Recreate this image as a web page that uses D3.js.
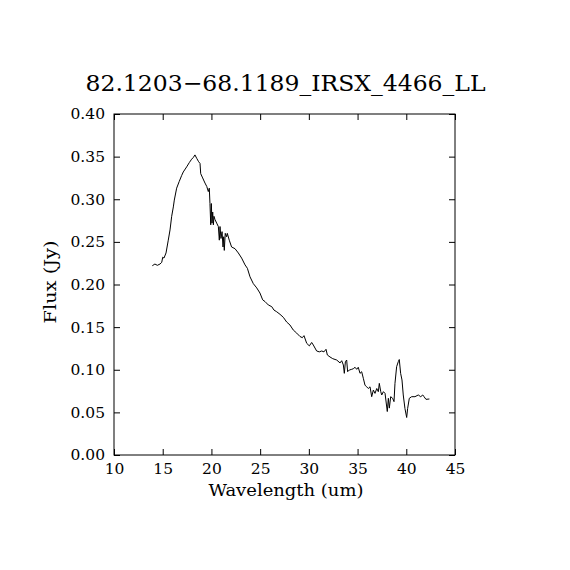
<!DOCTYPE html>
<html>
<head>
<meta charset="utf-8">
<script src="https://cdn.jsdelivr.net/npm/d3@7"></script>
<style>
  body { margin: 0; background: #fff; }
  text { font-family: "DejaVu Serif", "Liberation Serif", serif; fill: #000; }
</style>
</head>
<body>
<div id="chart"></div>
<script>
// spectrum
var wavelength = [13.93, 14.2, 14.45, 14.72, 14.9, 15.0, 15.13, 15.34, 15.57, 15.75, 15.92, 16.09, 16.19, 16.43, 16.7, 16.95, 17.11, 17.46, 17.73, 17.97, 18.14, 18.31, 18.49, 18.69, 18.83, 18.9, 19.1, 19.34, 19.52, 19.68, 19.78, 19.85, 19.93, 19.99, 20.06, 20.13, 20.2, 20.26, 20.37, 20.54, 20.71, 20.81, 20.88, 20.98, 21.09, 21.19, 21.26, 21.32, 21.42, 21.56, 21.63, 21.83, 22.07, 22.42, 22.76, 23.1, 23.45, 23.69, 23.96, 24.3, 24.65, 24.98, 25.26, 25.5, 25.84, 26.19, 26.42, 26.7, 27.04, 27.38, 27.72, 28.06, 28.4, 28.75, 29.09, 29.33, 29.5, 29.78, 30.05, 30.29, 30.46, 30.8, 31.07, 31.32, 31.55, 31.76, 31.9, 32.17, 32.45, 32.86, 33.2, 33.37, 33.54, 33.64, 33.75, 33.88, 33.98, 34.15, 34.4, 34.56, 34.74, 34.91, 35.07, 35.25, 35.42, 35.59, 35.76, 35.93, 36.1, 36.28, 36.45, 36.62, 36.79, 36.97, 37.13, 37.23, 37.38, 37.48, 37.65, 37.82, 38.05, 38.16, 38.26, 38.4, 38.6, 38.74, 38.84, 39.01, 39.18, 39.28, 39.42, 39.56, 39.69, 39.86, 40.04, 40.14, 40.31, 40.55, 40.89, 41.23, 41.48, 41.69, 41.82, 42.02, 42.37];
var flux = [0.222, 0.224, 0.2225, 0.224, 0.226, 0.232, 0.231, 0.237, 0.252, 0.264, 0.280, 0.291, 0.299, 0.313, 0.321, 0.328, 0.332, 0.338, 0.343, 0.347, 0.349, 0.352, 0.348, 0.344, 0.342, 0.330, 0.325, 0.319, 0.315, 0.309, 0.313, 0.295, 0.270, 0.295, 0.272, 0.285, 0.270, 0.280, 0.276, 0.272, 0.268, 0.252, 0.268, 0.254, 0.262, 0.244, 0.256, 0.240, 0.260, 0.256, 0.260, 0.252, 0.244, 0.242, 0.237, 0.231, 0.223, 0.219, 0.209, 0.201, 0.196, 0.190, 0.182, 0.180, 0.176, 0.174, 0.170, 0.168, 0.165, 0.1615, 0.156, 0.1525, 0.1466, 0.143, 0.139, 0.1376, 0.140, 0.131, 0.128, 0.132, 0.129, 0.122, 0.121, 0.122, 0.121, 0.124, 0.1173, 0.115, 0.113, 0.1114, 0.108, 0.1106, 0.1056, 0.0958, 0.1095, 0.1114, 0.0977, 0.0997, 0.1005, 0.1012, 0.1029, 0.1005, 0.1029, 0.0958, 0.0977, 0.090, 0.082, 0.080, 0.078, 0.080, 0.0684, 0.0762, 0.0723, 0.078, 0.0743, 0.084, 0.0743, 0.0704, 0.0743, 0.0723, 0.051, 0.0665, 0.055, 0.0684, 0.0665, 0.0626, 0.084, 0.1036, 0.1095, 0.112, 0.0958, 0.088, 0.0704, 0.0547, 0.044, 0.0547, 0.0665, 0.0684, 0.0684, 0.0704, 0.0684, 0.0704, 0.0684, 0.0653, 0.0657];
var xTicks = [10, 15, 20, 25, 30, 35, 40, 45];
var yTicks = [0.00, 0.05, 0.10, 0.15, 0.20, 0.25, 0.30, 0.35, 0.40];
var chartTitle = "82.1203\u221268.1189_IRSX_4466_LL";

var width = 570, height = 570;
var plotLeft = 114, plotRight = 455, plotTop = 114, plotBottom = 455;

var svg = d3.select('#chart').append('svg')
    .attr('width', width)
    .attr('height', height);

svg.append('rect').attr('width', width).attr('height', height).attr('fill', '#fff');

var x = d3.scaleLinear().domain([10, 45]).range([plotLeft, plotRight]);
var y = d3.scaleLinear().domain([0, 0.40]).range([plotBottom, plotTop]);

// inward ticks on all four sides
svg.append('g')
    .attr('transform', 'translate(0,' + plotBottom + ')')
    .call(d3.axisBottom(x).tickValues(xTicks).tickSizeInner(-6).tickSizeOuter(0).tickPadding(8).tickFormat(d3.format('d')));
svg.append('g')
    .attr('transform', 'translate(0,' + plotTop + ')')
    .call(d3.axisTop(x).tickValues(xTicks).tickSizeInner(-6).tickSizeOuter(0).tickFormat(''));
svg.append('g')
    .attr('transform', 'translate(' + plotLeft + ',0)')
    .call(d3.axisLeft(y).tickValues(yTicks).tickSizeInner(-6).tickSizeOuter(0).tickPadding(9).tickFormat(d3.format('.2f')));
svg.append('g')
    .attr('transform', 'translate(' + plotRight + ',0)')
    .call(d3.axisRight(y).tickValues(yTicks).tickSizeInner(-6).tickSizeOuter(0).tickFormat(''));

svg.selectAll('.domain').remove();
svg.selectAll('.tick line').attr('stroke', '#000').attr('stroke-width', 1);
svg.selectAll('.tick text').style('font-size', '15.5px').attr('fill', '#000');

svg.append('rect')
    .attr('x', plotLeft).attr('y', plotTop)
    .attr('width', plotRight - plotLeft).attr('height', plotBottom - plotTop)
    .attr('fill', 'none').attr('stroke', '#000').attr('stroke-width', 1);

var points = wavelength.map(function (w, i) { return [w, flux[i]]; });
var line = d3.line()
    .x(function (d) { return x(d[0]); })
    .y(function (d) { return y(d[1]); });

svg.append('path')
    .datum(points)
    .attr('d', line)
    .attr('fill', 'none')
    .attr('stroke', '#000')
    .attr('stroke-width', 1);

svg.append('text')
    .attr('x', (plotLeft + plotRight) / 2 + 1)
    .attr('y', 91)
    .attr('text-anchor', 'middle')
    .attr('textLength', 400)
    .attr('lengthAdjust', 'spacingAndGlyphs')
    .style('font-size', '23px')
    .text(chartTitle);

svg.append('text')
    .attr('x', 286)
    .attr('y', 496)
    .attr('text-anchor', 'middle')
    .attr('textLength', 155)
    .attr('lengthAdjust', 'spacingAndGlyphs')
    .style('font-size', '16.5px')
    .text('Wavelength (um)');

svg.append('text')
    .attr('transform', 'translate(56,' + 282 + ') rotate(-90)')
    .attr('text-anchor', 'middle')
    .attr('textLength', 83)
    .attr('lengthAdjust', 'spacingAndGlyphs')
    .style('font-size', '16.5px')
    .text('Flux (Jy)');
</script>
</body>
</html>
